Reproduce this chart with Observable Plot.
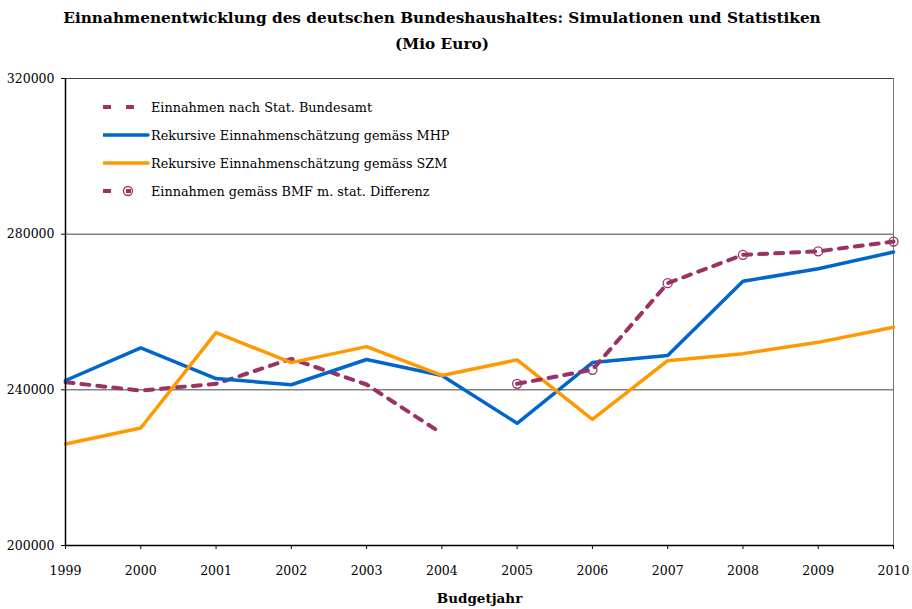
<!DOCTYPE html>
<html>
<head>
<meta charset="utf-8">
<script src="https://cdn.jsdelivr.net/npm/d3@7"></script>
<script src="https://cdn.jsdelivr.net/npm/@observablehq/plot@0.6"></script>
<style>
  body { margin: 0; background: #fff; }
  #wrap { position: relative; width: 912px; height: 609px; font-family: "DejaVu Serif", serif; color: #000; overflow: hidden; }
  #title { position: absolute; left: 0; top: 5px; width: 884px; text-align: center; font-weight: bold; font-size: 15.3px; line-height: 26px; }
  #chart { position: absolute; left: 0; top: 60px; }
  #legend { position: absolute; left: 103px; top: 93px; font-size: 12.8px; }
  .row { display: flex; align-items: center; height: 28px; }
  .row svg { width: 48px; height: 14px; flex: none; }
  .row span { white-space: nowrap; }
</style>
</head>
<body>
<div id="wrap">
  <div id="title">Einnahmenentwicklung des deutschen Bundeshaushaltes: Simulationen und Statistiken<br>(Mio Euro)</div>
  <div id="chart"></div>
  <div id="legend"></div>
</div>
<script>
// ---- data (Mio Euro) ----
const years = [1999, 2000, 2001, 2002, 2003, 2004, 2005, 2006, 2007, 2008, 2009, 2010];
const statYears = [1999, 2000, 2001, 2002, 2003, 2004];
const statBundesamt = [241960, 239800, 241550, 247970, 241370, 228780];
const mhp = [242400, 250800, 242900, 241300, 247800, 243700, 231400, 247000, 248800, 267900, 271100, 275400];
const szm = [226100, 230200, 254700, 247000, 251100, 243700, 247700, 232400, 247500, 249300, 252200, 256100];
const bmfYears = [2005, 2006, 2007, 2008, 2009, 2010];
const bmf = [241550, 245150, 267400, 274700, 275600, 278100];
const yTicks = [200000, 240000, 280000, 320000];
const seriesNames = [
  "Einnahmen nach Stat. Bundesamt",
  "Rekursive Einnahmenschätzung gemäss MHP",
  "Rekursive Einnahmenschätzung gemäss SZM",
  "Einnahmen gemäss BMF m. stat. Differenz"
];
const colors = { stat: "#993366", mhp: "#0066CC", szm: "#FF9900", bmf: "#993366" };

const statData = statYears.map((y, i) => ({ year: y, value: statBundesamt[i] }));
const mhpData = years.map((y, i) => ({ year: y, value: mhp[i] }));
const szmData = years.map((y, i) => ({ year: y, value: szm[i] }));
const bmfData = bmfYears.map((y, i) => ({ year: y, value: bmf[i] }));

const chart = Plot.plot({
  width: 912,
  height: 549,
  marginTop: 18,
  marginBottom: 64,
  marginLeft: 65,
  marginRight: 19,
  style: { fontFamily: "DejaVu Serif, serif", fontSize: "12.5px", color: "#000", background: "#fff" },
  x: { type: "linear", domain: [1999, 2010] },
  y: { domain: [200000, 320000] },
  marks: [
    Plot.ruleY(yTicks.slice(1), { stroke: "#444", strokeWidth: 1 }),
    Plot.ruleX([2010], { stroke: "#777", strokeWidth: 1 }),
    Plot.line(statData, { x: "year", y: "value", stroke: colors.stat, strokeWidth: 4, strokeDasharray: "8,8" }),
    Plot.line(mhpData, { x: "year", y: "value", stroke: colors.mhp, strokeWidth: 3.5 }),
    Plot.line(szmData, { x: "year", y: "value", stroke: colors.szm, strokeWidth: 3.5 }),
    Plot.line(bmfData, { x: "year", y: "value", stroke: colors.bmf, strokeWidth: 4, strokeDasharray: "8,8" }),
    Plot.dot(bmfData, { x: "year", y: "value", r: 4.5, stroke: colors.bmf, fill: "none", strokeWidth: 1.3 }),
    Plot.axisX({ ticks: years, tickFormat: d => String(d), tickSize: 4, tickPadding: 17, label: null }),
    Plot.axisY({ ticks: yTicks, tickFormat: d3.format("d"), tickSize: 4, tickPadding: 7, label: null }),
    Plot.ruleY([200000], { stroke: "#000", strokeWidth: 1.5 }),
    Plot.ruleX([1999], { stroke: "#000", strokeWidth: 1.5 }),
    Plot.text(["Budgetjahr"], { frameAnchor: "bottom", lineAnchor: "middle", dy: 53, fontWeight: "bold", fontSize: 13.5 })
  ]
});
document.getElementById("chart").appendChild(chart);

// ---- legend ----
const legend = document.getElementById("legend");
const samples = [
  `<line x1="0" y1="7" x2="8" y2="7" stroke="${colors.stat}" stroke-width="4"/><line x1="23" y1="7" x2="31" y2="7" stroke="${colors.stat}" stroke-width="4"/>`,
  `<line x1="0" y1="7" x2="45" y2="7" stroke="${colors.mhp}" stroke-width="3.5" stroke-linecap="round"/>`,
  `<line x1="0" y1="7" x2="45" y2="7" stroke="${colors.szm}" stroke-width="3.5" stroke-linecap="round"/>`,
  `<line x1="0" y1="7" x2="8" y2="7" stroke="${colors.bmf}" stroke-width="4"/><line x1="23" y1="7" x2="28" y2="7" stroke="${colors.bmf}" stroke-width="4"/><circle cx="25" cy="7" r="4.5" fill="none" stroke="${colors.bmf}" stroke-width="1.3"/>`
];
seriesNames.forEach((name, i) => {
  const row = document.createElement("div");
  row.className = "row";
  row.innerHTML = `<svg viewBox="0 0 48 14">${samples[i]}</svg><span>${name}</span>`;
  legend.appendChild(row);
});
</script>
</body>
</html>
